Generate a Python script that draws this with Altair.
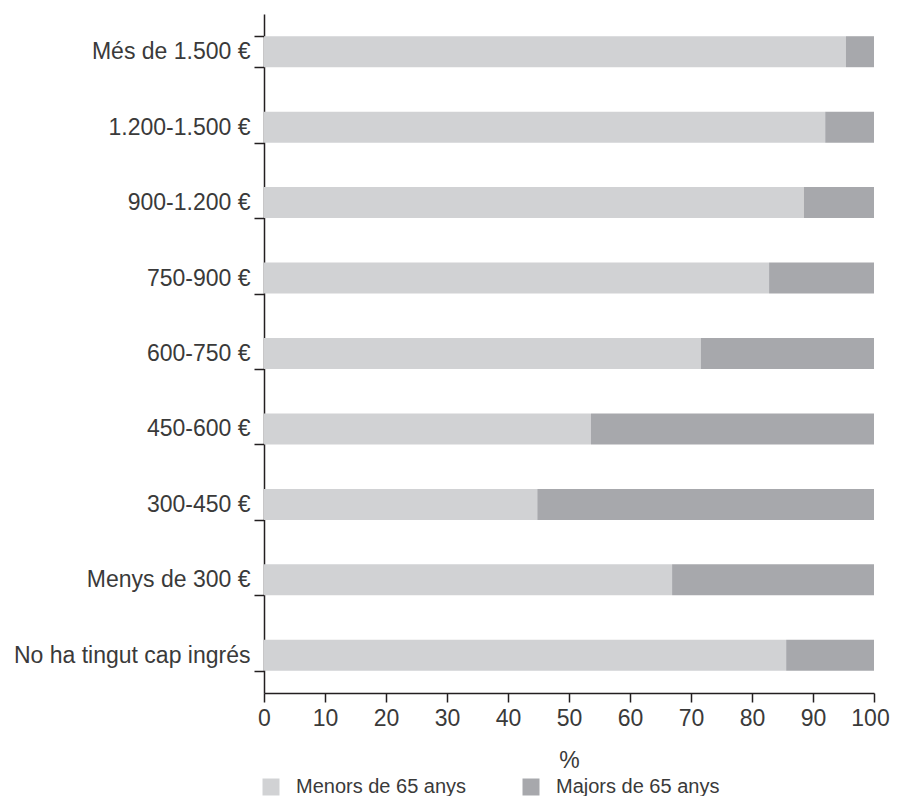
import altair as alt
import pandas as pd

categories = [
    "Més de 1.500 €",
    "1.200-1.500 €",
    "900-1.200 €",
    "750-900 €",
    "600-750 €",
    "450-600 €",
    "300-450 €",
    "Menys de 300 €",
    "No ha tingut cap ingrés",
]
menors = [95.4, 92.0, 88.5, 82.8, 71.6, 53.6, 44.8, 66.9, 85.6]
majors = [round(100 - v, 1) for v in menors]
series = ["Menors de 65 anys", "Majors de 65 anys"]
colors = ["#d1d2d4", "#a7a8ac"]
x_ticks = [0, 10, 20, 30, 40, 50, 60, 70, 80, 90, 100]

rows = []
for c, a, b in zip(categories, menors, majors):
    rows.append({"cat": c, "serie": series[0], "val": a, "ord": 0})
    rows.append({"cat": c, "serie": series[1], "val": b, "ord": 1})
df = pd.DataFrame(rows)

FONT = "Liberation Sans"
TXT = "#3a3a3a"
AX = "#231f20"

chart = (
    alt.Chart(df)
    .mark_bar(size=31)
    .encode(
        y=alt.Y(
            "cat:N",
            sort=categories,
            title=None,
            scale=alt.Scale(paddingInner=0.59, paddingOuter=0.295),
            axis=alt.Axis(
                tickBand="extent",
                tickSize=10,
                labelPadding=4,
                labelFontSize=23,
                labelFont=FONT,
                labelColor=TXT,
                labelLimit=400,
                domainColor=AX,
                tickColor=AX,
                domainWidth=1.5,
                tickWidth=1.5,
            ),
        ),
        x=alt.X(
            "val:Q",
            stack="zero",
            title="%",
            scale=alt.Scale(domain=[0, 100], nice=False),
            axis=alt.Axis(
                values=x_ticks,
                tickSize=9,
                labelPadding=5,
                labelFontSize=23,
                labelFont=FONT,
                labelColor=TXT,
                labelOffset={"expr": "datum.value == 100 ? -4 : 0"},
                titleFontSize=23,
                titleFont=FONT,
                titleColor=TXT,
                titleFontWeight="normal",
                titlePadding=19,
                grid=False,
                domainColor=AX,
                tickColor=AX,
                domainWidth=1.5,
                tickWidth=1.5,
                labelFlush=False,
            ),
        ),
        color=alt.Color(
            "serie:N",
            scale=alt.Scale(domain=series, range=colors),
            legend=alt.Legend(
                title=None,
                orient="none",
                legendX=-3,
                legendY=763,
                direction="horizontal",
                columns=2,
                columnPadding=54,
                symbolType="square",
                symbolSize=289,
                symbolStrokeWidth=0,
                labelFontSize=20,
                labelFont=FONT,
                labelColor=TXT,
                labelLimit=400,
                labelOffset=15,
                padding=0,
            ),
        ),
        order=alt.Order("ord:Q"),
    )
    .properties(
        width=610,
        height=679,
        autosize=alt.AutoSizeParams(type="none"),
        padding={"left": 256, "top": 6, "right": 16, "bottom": 103},
    )
    .configure_view(stroke=None)
)

chart.save("out.html", embed_options={"renderer": "svg", "actions": False})
